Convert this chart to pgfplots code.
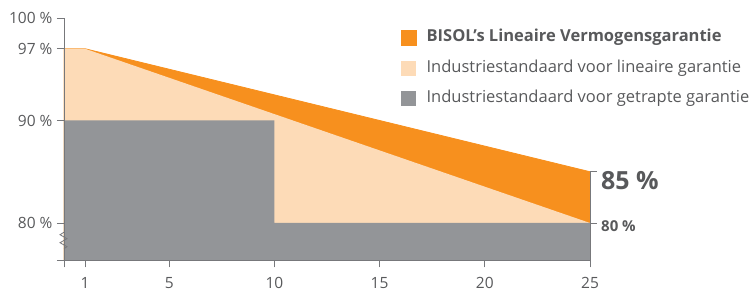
\documentclass[border=0pt]{standalone}
\usepackage{pgfplots}
\pgfplotsset{compat=1.18}
\usepackage{fontspec}
\setmainfont{Open Sans}
\definecolor{bisol}{HTML}{F7901E}
\definecolor{peach}{HTML}{FDDBB7}
\definecolor{stepgray}{HTML}{939598}
\definecolor{axgray}{HTML}{77787B}
\definecolor{txt}{HTML}{58595B}
\begin{document}
\begin{tikzpicture}
\useasboundingbox (0,0) rectangle (753pt,291pt);
\begin{axis}[
  at={(64pt,30.5pt)}, anchor=south west,
  scale only axis, width=526pt, height=242.5pt,
  xmin=0, xmax=25, ymin=76.34, ymax=100,
  axis lines=left, axis line style={-, draw=axgray, line width=0.9pt},
  axis on top,
  tick align=outside, major tick length=7pt,
  tick style={axgray, line width=0.9pt},
  xtick={0,1,5,10,15,20,25}, xticklabels={,1,5,10,15,20,25},
  ytick={76.34,80,90,97,100}, yticklabels={,80 \%,90 \%,97 \%,100 \%},
  tick label style={font=\fontsize{15.5}{16}\selectfont, text=txt},
  xticklabel style={yshift=-6pt},
  yticklabel style={xshift=-1pt},
  clip mode=individual,
  legend cell align=left,
  legend image code/.code={\fill[#1] (0pt,-4pt) rectangle (15pt,11pt);},
  legend style={at={(axis cs:16.0,98.93)}, anchor=north west, draw=none, fill=none,
    inner sep=0pt, row sep=13.5pt,
    font=\fontsize{16.5}{18}\selectfont, text=txt,
    nodes={inner sep=0pt, anchor=base west},
    /tikz/every even column/.append style={column sep=0pt},
    /tikz/every odd column/.append style={column sep=10pt}},
]
\addplot[fill=bisol, draw=bisol, line width=0.8pt] coordinates {(0,97) (1,97) (25,85)} \closedcycle;
\addplot[fill=peach, draw=none] coordinates {(0,97) (1,97) (25,80)} \closedcycle;
\addplot[fill=stepgray, draw=none] coordinates {(0,90) (10,90) (10,80) (25,80)} \closedcycle;
\legend{\textbf{BISOL’s Lineaire Vermogensgarantie},Industriestandaard voor lineaire garantie,Industriestandaard voor getrapte garantie}
\draw[axgray, line width=0.8pt] (axis cs:25,85) -- (axis cs:25,76.34);
\draw[axgray, line width=0.9pt] (axis cs:25,85) -- ++(7pt,0pt);
\draw[axgray, line width=0.9pt] (axis cs:25,80) -- ++(7pt,0pt);
\node[anchor=west, inner sep=0pt, text=txt, font=\fontsize{25}{26}\selectfont\bfseries] at ([xshift=11pt,yshift=-9pt]axis cs:25,85) {85 \%};
\node[anchor=west, inner sep=0pt, text=txt, font=\fontsize{15}{16}\selectfont\bfseries] at ([xshift=11pt,yshift=-3pt]axis cs:25,80) {80 \%};
\draw[axgray, line width=0.8pt] (axis cs:0,79.1) -- ++(-4pt,-2.5pt) -- ++(7pt,-4pt) -- ++(-7pt,-4pt) -- ++(7pt,-4pt) -- ++(-3pt,-2pt);
\end{axis}
\end{tikzpicture}
\end{document}
